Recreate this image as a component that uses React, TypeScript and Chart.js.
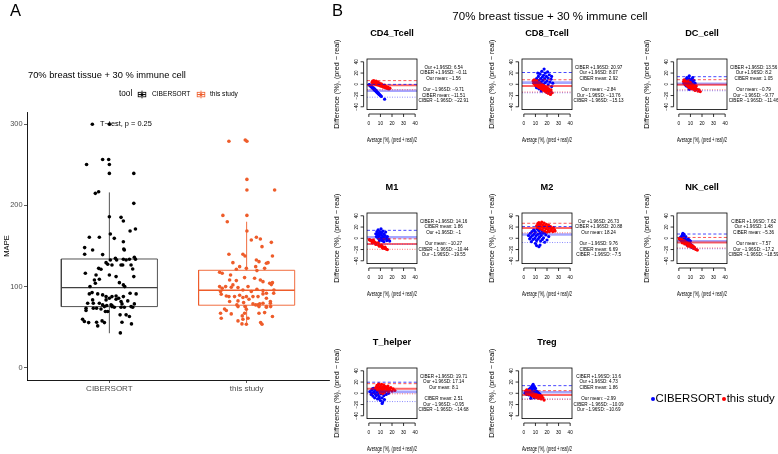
import React, { useEffect, useRef } from 'react';
import { Chart, registerables } from 'chart.js';
Chart.register(...registerables);

const FONT = '"Liberation Sans", Arial, Helvetica, sans-serif';
const MINUS = '\u2212';

/* ---------------- Panel A data ---------------- */
const toolNames = ['CIBERSORT', 'this study'];
const toolColors = ['#000000', '#EE5C2A'];
const boxLineColors = ['#404040', '#EE5C2A'];
const mapeQ1 = [75.4, 77.1];
const mapeMedian = [98.8, 95.5];
const mapeQ3 = [134.0, 120.1];
const mapeWhiskerLow = [42.6, 54.1];
const mapeWhiskerHigh = [216.0, 179.9];
const mapeTicks = [0, 100, 200, 300];

// [horizontal jitter (category units), MAPE]
const ciberMape: [number, number][] = [
  [-0.124, 300], [0, 300],
  [-0.166, 250.4], [-0.049, 256.6], [-0.005, 256.6], [0, 250.4], [0, 239.4], [0.178, 239.4],
  [-0.102, 214.8], [-0.078, 216.8], [0.178, 202.5], [0, 186.1], [0.085, 185.3], [0.102, 180.7],
  [-0.146, 160.7], [-0.073, 160.7], [0.036, 159.4], [0.007, 164.8], [0.151, 168.4], [0.19, 170.9],
  [-0.18, 148.0], [-0.122, 145.1], [-0.18, 139.8], [-0.049, 139.4], [0.105, 146.3], [0.109, 145.1], [0.102, 155.3],
  [0.007, 132.8], [0.044, 134.8], [0.053, 132.8], [0.102, 133.6], [0.146, 133.6], [0.182, 136.1], [0.19, 133.6],
  [-0.175, 116.4], [-0.097, 114.3], [-0.078, 122.5], [-0.061, 121.3], [-0.109, 108.2], [-0.073, 109.0],
  [-0.012, 127.5], [0.019, 126.6], [-0.024, 129.5], [0.085, 126.6], [0.097, 126.6], [0.122, 132.8], [0.158, 126.6], [0.17, 121.7], [0.178, 112.3],
  [-0.141, 100.0], [-0.102, 104.1], [0.073, 104.9], [0.102, 102.1], [0.112, 100.0], [0.049, 112.3], [0, 114.3],
  [-0.146, 91.0], [-0.126, 92.6], [-0.085, 91.0], [-0.049, 89.8], [-0.024, 87.7], [0, 85.7], [0.019, 87.7], [0.049, 88.5], [0.068, 85.7], [0.102, 87.7], [0.151, 91.8], [0.195, 91.0],
  [-0.158, 79.5], [-0.117, 79.5], [-0.073, 79.5], [-0.049, 77.5], [-0.036, 75.4], [0.012, 77.5], [0.019, 75.4], [0.049, 84.4], [0.085, 81.6], [0.092, 78.7], [0.158, 75.4], [0.182, 78.7], [-0.17, 73.4], [-0.122, 83.6],
  [-0.024, 83.6], [0.134, 82.4],
  [-0.17, 70.5], [-0.117, 73.4], [-0.093, 73.4], [-0.061, 72.5], [-0.029, 69.3], [-0.012, 69.3], [0.036, 74.6], [0.085, 74.6], [0.109, 74.6], [0.17, 74.6],
  [0.122, 65.2], [0.146, 63.1], [-0.195, 59.8], [-0.182, 57.0], [-0.151, 55.7], [-0.093, 56.1], [-0.085, 51.6], [-0.053, 57.8], [-0.036, 55.7], [0.078, 65.2], [0.092, 56.1], [0.161, 54.1], [0.08, 43.0], [-0.019, 76.6], [0.019, 76.6],
];

const studyMape: [number, number][] = [
  [-0.129, 279], [-0.01, 280.5], [0.002, 279],
  [0.002, 232.0], [0.002, 218.9], [0.204, 218.9], [-0.173, 187.7], [0.002, 187.7], [-0.141, 179.9], [0.002, 168.4],
  [0.034, 157.4], [0.071, 160.7], [0.1, 158.6], [0.18, 154.5], [-0.129, 139.8], [-0.027, 139.8], [-0.012, 137.7], [0.112, 149.2], [0.188, 137.7],
  [-0.1, 129.5], [-0.051, 124.6], [-0.197, 117.6], [-0.178, 116.4], [-0.117, 114.3], [-0.075, 121.3], [-0.002, 122.5], [0.071, 132.8], [0.09, 130.7], [0.144, 128.7], [0.156, 129.5], [0.066, 124.6], [0.075, 119.7], [0.131, 122.5],
  [-0.124, 108.2], [-0.075, 107.4], [-0.015, 111.1], [0.058, 110.3], [0.1, 108.2], [0.119, 106.1], [0.168, 104.1], [0.18, 102.5], [0.188, 104.9],
  [-0.197, 100.0], [-0.178, 98.0], [-0.153, 100.0], [-0.1, 102.1], [-0.063, 98.8], [-0.027, 95.9], [0.01, 100.0], [0.034, 93.9], [0.075, 96.7], [0.119, 95.1], [0.144, 91.8],
  [-0.19, 93.9], [-0.185, 90.6], [-0.148, 88.5], [-0.129, 87.7], [-0.088, 87.7], [-0.051, 89.3], [-0.027, 86.5], [-0.002, 87.7], [0.017, 84.4], [0.046, 87.7], [0.083, 87.7], [0.119, 91.0], [0.144, 85.7], [0.197, 91.8], [0.199, 95.9],
  [-0.124, 81.6], [-0.071, 77.5], [-0.022, 80.3], [0.046, 78.7], [0.083, 77.5], [0.119, 79.5], [0.144, 75.4], [0.173, 79.5], [-0.012, 75.4], [-0.112, 99.2],
  [-0.063, 82.4], [0.095, 78.7], [0.173, 81.6], [-0.161, 72.5], [-0.148, 70.5], [-0.063, 75.4], [-0.002, 72.1], [0.066, 77.5], [0.09, 75.4], [0.144, 74.6], [0.175, 75.4],
  [-0.19, 67.2], [-0.185, 61.0], [-0.112, 66.4], [-0.032, 63.9], [-0.015, 67.2], [0.09, 67.2], [0.131, 68.0], [0.188, 63.1], [-0.063, 57.8], [-0.027, 59.8], [-0.034, 54.1], [-0.002, 53.7], [0.102, 55.7], [0.112, 53.7], [0.01, 61.0],
];

/* ---------------- Panel B data ---------------- */
const cellNames = ['CD4_Tcell', 'CD8_Tcell', 'DC_cell', 'M1', 'M2', 'NK_cell', 'T_helper', 'Treg'];
const ciberUpper = [-0.11, 20.97, 13.56, 14.16, 20.88, 7.62, 19.71, 13.6];
const ciberMean = [-11.51, 2.92, 1.05, 1.86, 6.69, -5.36, 2.51, 1.86];
const ciberLower = [-22.91, -15.13, -11.46, -10.44, -7.5, -18.59, -14.68, -10.09];
const ourUpper = [6.54, 8.07, 8.2, -1, 26.73, 1.48, 17.14, 4.73];
const ourMean = [-1.56, -2.84, -0.79, -10.27, 18.24, -7.57, 8.1, -2.99];
const ourLower = [-9.71, -13.76, -9.77, -19.55, 9.76, -17.2, -0.95, -10.69];
const baXTicks = [0, 10, 20, 30, 40];
const baYTicks = [40, 20, 0, -20, -40];
const BA_XMIN = -1.6, BA_XMAX = 41.6, BA_YMIN = -45, BA_YMAX = 45;

type P = [number, number];
const cd4Ciber: P[] = [[0.3,-0.5],[0.6,-1.2],[0.9,-1.6],[1.2,-2.5],[1.5,-2.8],[1.8,-3.7],[2.1,-4.0],[2.4,-4.9],[2.7,-5.2],[3.0,-6.1],[3.3,-6.4],[3.6,-7.3],[3.9,-7.6],[4.2,-8.5],[4.5,-8.8],[4.8,-9.7],[5.1,-10.0],[5.4,-10.9],[5.7,-11.2],[6.0,-12.1],[6.3,-12.4],[6.6,-13.3],[6.9,-13.6],[7.2,-14.5],[7.5,-14.8],[7.8,-15.7],[8.1,-16.0],[8.4,-16.9],[8.7,-17.2],[9.0,-18.1],[9.4,-18.6],[9.8,-19.7],[10.3,-20.4],[10.8,-21.5],[13.6,-26.5],[2,-2.8],[4,-6.5],[6,-10.5],[5,-8]];
const cd4Ours: P[] = [[2.8,3.5],[3.2,5.5],[3.6,1.8],[4.0,4.2],[4.3,6.4],[4.7,2.6],[5.0,0.5],[5.3,4.8],[5.6,3.0],[6.0,1.2],[6.3,5.6],[6.6,-0.5],[7.0,2.9],[7.3,0.8],[7.7,3.8],[8.0,-1.4],[8.3,1.5],[8.7,-0.2],[9.0,2.4],[9.4,-2.2],[9.7,0.4],[10.1,-1.1],[10.5,-3.4],[10.8,1.0],[11.2,-2.6],[11.6,-0.8],[12.0,-4.2],[12.4,-2.0],[12.8,-5.1],[13.2,-3.3],[13.7,-1.6],[14.1,-5.8],[14.6,-4.0],[15.0,-6.6],[15.5,-4.9],[16.0,-7.3],[16.6,-5.6],[17.3,-8.2],[18.2,-6.9]];
const cd8Ciber: P[] = [[9,2],[10,6],[10.5,-3],[11,10],[11.5,4],[12,-1],[12.5,14],[13,7],[13.5,1],[14,18],[14,-5],[14.5,10],[15,4],[15.5,23],[15.5,-2],[16,13],[16.5,7],[17,0],[17,16],[17.5,27],[18,10],[18.5,3],[18.5,20],[19,-6],[19.5,14],[20,6],[20.5,22],[21,-1],[21,11],[22,17],[22.5,4],[23,-12],[23.5,9],[24,14],[25,2],[16,-9],[20,-14],[12,20],[13,-8],[18,-10],[15,-12],[11,-6],[21,-8],[24,-4]];
const cd8Ours: P[] = [[8,6],[8.5,2],[9,8],[9.5,0],[10,4],[10.5,-2],[11,6],[11.5,1],[12,-4],[12.5,3],[13,-1],[13.5,-6],[14,2],[14.5,-3],[15,-8],[15.5,0],[16,-5],[16.5,-10],[17,-2],[17.5,-7],[18,-12],[18.5,-4],[19,-9],[19.5,-14],[20,-6],[20.5,-11],[21,-16],[21.5,-8],[22,-13],[23,-18],[23.5,-10],[24.5,-15]];
const dcCiber: P[] = [[4.5,2],[5,6],[5.5,-1],[6,9],[6,3],[6.5,-3],[7,12],[7,5],[7.5,0],[8,8],[8,-5],[8.5,3],[9,15],[9,10],[9.5,-2],[10,6],[10,1],[10.5,-7],[11,9],[11,3],[11.5,-3],[12,5],[12.5,0],[13,-6],[13,7],[14,2],[14.5,-4],[15.5,-9],[12,12],[9,-9]];
const dcOurs: P[] = [[4,5],[4.5,8],[5,2],[5.5,6],[6,0],[6.5,4],[7,-2],[7.5,2],[8,-4],[8,5],[8.5,0],[9,-6],[9.5,-2],[10,3],[10.5,-4],[11,-8],[11.5,0],[12,-6],[12.5,-2],[13,-9],[13.5,-5],[14,-11],[14.5,-7],[15,-3],[16,-9],[16.5,-12],[17.5,-10],[18.5,-13]];
const m1Ciber: P[] = [[6,8],[6.5,3],[7,12],[7.5,6],[8,0],[8,15],[8.5,9],[9,4],[9.5,-2],[9.5,12],[10,7],[10.5,17],[10.5,1],[11,10],[11.5,-4],[11.5,5],[12,13],[12.5,2],[13,8],[13,-6],[13.5,-1],[14,5],[14.5,11],[15,0],[15.5,-4],[16,3],[17,-2],[18,-5],[12,-2],[9,-5]];
const m1Ours: P[] = [[0.5,-2.5],[1,-3.5],[1.5,-3],[2,-4.5],[2.5,-4],[3,-5.5],[3.5,-5],[4,-6.5],[4.5,-6.5],[5,-7.5],[5.5,-7.5],[6,-8.5],[6.5,-9],[7,-9.5],[7.5,-10],[8,-10.5],[8.5,-11.5],[9,-11.5],[9.5,-12.5],[10,-13],[10.5,-13.5],[11,-14],[11.5,-15],[12,-15],[12.5,-16],[13,-16.5],[13.5,-17.5],[14,-17.5],[14.5,-18.5],[15,-19],[16,-20],[3,-8],[6,-11],[9,-14],[12,-17.5],[4,-3.5],[8,-8],[11,-12],[14,-15.5]];
const m2Ciber: P[] = [[4,5],[5,-1],[5.5,9],[6,2],[6.5,-6],[7,12],[7.5,5],[8,-2],[8.5,15],[9,8],[9.5,0],[10,-9],[10,11],[10.5,4],[11,-4],[11.5,17],[12,7],[12.5,-1],[13,13],[13.5,2],[14,-12],[14,9],[14.5,-5],[15,5],[15.5,14],[16,-2],[16.5,9],[17,1],[18,-7],[19,6],[20,-3],[21.5,3],[11,-13],[13,-15],[9,14],[12,16],[16,12],[18,10]];
const m2Ours: P[] = [[11,22],[12,26],[12.5,19],[13,28],[13.5,23],[14,17],[14.5,26],[15,21],[15.5,29],[16,15],[16.5,24],[17,19],[17.5,27],[18,13],[18.5,22],[19,17],[19.5,25],[20,11],[20.5,20],[21,15],[21.5,23],[22,12],[22.5,18],[23,21],[23.5,14],[24,17],[25,12],[25.5,19],[26.5,15],[27,13]];
const nkCiber: P[] = [[0.5,-1],[1,1],[1.5,-2],[2,3],[2.5,0],[3,6],[3.5,9],[4,4],[4,-2],[4.5,7],[5,1],[5,-4],[5.5,-1],[6,-6],[6,3],[6.5,-3],[7,-8],[7.5,-5],[8,-10],[8,-1],[8.5,-7],[9,-12],[9.5,-9],[10,-14],[10,-5],[10.5,-11],[11,-16],[11.5,-13],[12,-17],[7,-12],[9,-3]];
const nkOurs: P[] = [[0.3,-1],[1,-2.5],[1.5,-1],[2,-4],[2.5,-2.5],[3,-5],[3.5,-3.5],[4,-6.5],[4.5,-4.5],[5,-8],[5.5,-6],[6,-9],[6.5,-7],[7,-10.5],[7.5,-8.5],[8,-11.5],[8.5,-9.5],[9,-13],[9.5,-11],[10,-14],[10.5,-12],[11,-15.5],[11.5,-13.5],[12,-16.5],[12.5,-14.5],[13,-18],[13.5,-16],[14,-19],[15,-20],[16,-21],[5,-10],[8,-14],[3,-8]];
const thCiber: P[] = [[1,3],[2,-2],[2.5,6],[3,0],[3.5,-5],[4,9],[4.5,3],[5,-8],[5.5,-1],[6,6],[6.5,-4],[7,11],[7,2],[7.5,-10],[8,-2],[8.5,7],[9,-6],[9.5,3],[10,-13],[10,10],[10.5,-1],[11,5],[11.5,-18],[11.5,-8],[12,1],[12.5,8],[13,-4],[13.5,-11],[14,3],[15,-2],[16,6],[17,0],[12,-15],[9,-9],[5,8],[8,12],[14,10],[3,8]];
const thOurs: P[] = [[6,10],[7,14],[7.5,6],[8,12],[8.5,17],[9,8],[9.5,3],[10,13],[10.5,9],[11,16],[11.5,5],[12,11],[12.5,7],[13,14],[13.5,2],[14,9],[14.5,12],[15,5],[15.5,10],[16,7],[16.5,13],[17,3],[17.5,9],[18,6],[19,10],[20,4],[21,8],[22.5,5],[12,0],[10,1]];
const tregCiber: P[] = [[1,0],[2,2],[2.5,-2],[3,4],[3.5,1],[4,6],[4.5,-3],[5,8],[5,2],[5.5,-1],[6,10],[6,4],[6.5,-5],[7,13],[7,6],[7.5,1],[8,16],[8,9],[8.5,3],[8.5,-3],[9,12],[9.5,6],[10,0],[10,9],[10.5,-6],[11,4],[11.5,-1],[12,2],[12.5,-4],[13,0],[14,-2],[9,-8],[6,-9]];
const tregOurs: P[] = [[1.5,4],[2,1],[2.5,6],[3,2],[3.5,-1],[4,3],[4.5,0],[5,5],[5.5,-2],[6,2],[6.5,-1],[7,-4],[7.5,1],[8,-3],[8.5,-6],[9,-1],[9.5,-4],[10,-7],[10.5,-2],[11,-5],[11.5,-8],[12,-3],[12.5,-6],[13,-9],[13.5,-4],[14,-7],[15,-10],[15.5,-5],[16.5,-8],[17.5,-12]];

const ciberPoints = [cd4Ciber, cd8Ciber, dcCiber, m1Ciber, m2Ciber, nkCiber, thCiber, tregCiber];
const ourPoints = [cd4Ours, cd8Ours, dcOurs, m1Ours, m2Ours, nkOurs, thOurs, tregOurs];

/* ---------------- layout constants ---------------- */
const BOX_HALF = 0.35;
const boxLefts = [367, 522, 677];
const boxTops = [59, 213, 368];
const BOX_W = 50, BOX_H = 50.6;
const baTextOffsets = [8.6, 14.2, 19.8, 31.0, 36.6, 42.2];

const fmtNum = (v: number) => String(v).replace('-', MINUS);

function Label(props: { x: number; y: number; size: number; text: string; anchor?: string; bold?: boolean; color?: string }) {
  const { x, y, size, text, anchor = 'left', bold, color = '#000' } = props;
  const tx = anchor === 'left' ? '0' : anchor === 'center' ? '-50%' : '-100%';
  return (
    <div style={{ position: 'absolute', left: x, top: y, fontFamily: FONT, fontSize: size, fontWeight: bold ? 'bold' : 'normal', color, whiteSpace: 'nowrap', lineHeight: 1, transform: `translate(${tx}, -50%)` }}>{text}</div>
  );
}

function KeyGlyph({ x, y, color }: { x: number; y: number; color: string }) {
  return (
    <svg style={{ position: 'absolute', left: x, top: y }} width={10} height={9}>
      <line x1={5} y1={0.6} x2={5} y2={2.3} stroke={color} strokeWidth={0.8} />
      <line x1={5} y1={6.8} x2={5} y2={8.4} stroke={color} strokeWidth={0.8} />
      <rect x={1.2} y={2.3} width={7.6} height={4.5} fill="white" stroke={color} strokeWidth={0.8} />
      <line x1={1.2} y1={4.55} x2={8.8} y2={4.55} stroke={color} strokeWidth={1} />
      <circle cx={5} cy={4.55} r={1.5} fill={color} />
    </svg>
  );
}

function PanelA() {
  const ref = useRef<HTMLCanvasElement>(null);
  useEffect(() => {
    const W = 336, H = 454;
    const groups = [ciberMape, studyMape];
    const datasets: any[] = [];
    groups.forEach((pts, i) => {
      datasets.push({ type: 'scatter', data: pts.map(([j, v]) => ({ x: i + 1 + j, y: v })), backgroundColor: toolColors[i], borderWidth: 0, pointRadius: 1.8 });
    });
    groups.forEach((_, i) => {
      const c = i + 1;
      const w = BOX_HALF;
      const line = { type: 'line', borderColor: boxLineColors[i], pointRadius: 0, fill: false, tension: 0 };
      datasets.push({ ...line, borderWidth: 1.4, data: [{ x: c - w, y: mapeMedian[i] }, { x: c + w, y: mapeMedian[i] }] });
      datasets.push({ ...line, borderWidth: 0.9, data: [{ x: c - w, y: mapeQ1[i] }, { x: c + w, y: mapeQ1[i] }, { x: c + w, y: mapeQ3[i] }, { x: c - w, y: mapeQ3[i] }, { x: c - w, y: mapeQ1[i] }] });
      datasets.push({ ...line, borderWidth: 0.9, spanGaps: false, data: [{ x: c, y: mapeWhiskerLow[i] }, { x: c, y: mapeQ1[i] }, { x: c, y: null }, { x: c, y: mapeQ3[i] }, { x: c, y: mapeWhiskerHigh[i] }] });
    });
    const chart = new Chart(ref.current!, {
      type: 'scatter',
      data: { datasets },
      options: {
        animation: false,
        responsive: false,
        layout: { padding: { left: 0, top: 112, right: W - 329, bottom: H - 380 - 20 } },
        plugins: { legend: { display: false }, tooltip: { enabled: false } },
        scales: {
          x: {
            type: 'linear', min: 0.4, max: 2.6,
            afterBuildTicks: (s: any) => { s.ticks = [1, 2].map((v) => ({ value: v })); },
            afterFit: (s: any) => { s.height = 20; },
            ticks: { callback: (v: any) => toolNames[Math.round(v) - 1], font: { family: FONT, size: 8 }, color: '#4d4d4d', padding: 1, maxRotation: 0, autoSkip: false },
            grid: { display: true, drawOnChartArea: false, drawTicks: true, tickLength: 3, color: '#333', lineWidth: 0.8 },
            border: { display: true, color: '#000', width: 0.9 },
          },
          y: {
            type: 'linear', min: -15, max: 315,
            afterBuildTicks: (s: any) => { s.ticks = mapeTicks.map((v) => ({ value: v })); },
            afterFit: (s: any) => { s.width = 27; },
            ticks: { font: { family: FONT, size: 7.4 }, color: '#4d4d4d', padding: 1.5 },
            grid: { display: true, drawOnChartArea: false, drawTicks: true, tickLength: 3, color: '#333', lineWidth: 0.8 },
            border: { display: true, color: '#000', width: 0.9 },
            title: { display: true, text: 'MAPE', font: { family: FONT, size: 7.6 }, color: '#000', padding: { top: 2, bottom: 0 } },
          },
        },
      } as any,
    });
    return () => chart.destroy();
  }, []);
  return <canvas ref={ref} width={336} height={454} style={{ position: 'absolute', left: 0, top: 0, width: 336, height: 454 }} />;
}

function BAPlot({ idx }: { idx: number }) {
  const ref = useRef<HTMLCanvasElement>(null);
  const col = idx % 3, row = Math.floor(idx / 3);
  const left = boxLefts[col] - 37;
  const top = boxTops[row] - 34;
  const W = Math.min(142, 778 - left);
  const H = 125;
  useEffect(() => {
    const entries: [string, number][] = [
      ['CIBER +1.96SD', ciberUpper[idx]], ['CIBER mean', ciberMean[idx]], ['CIBER ' + MINUS + '1.96SD', ciberLower[idx]],
      ['Our +1.96SD', ourUpper[idx]], ['Our mean', ourMean[idx]], ['Our ' + MINUS + '1.96SD', ourLower[idx]],
    ];
    const lines = entries.slice().sort((a, b) => b[1] - a[1]).map(([k, v]) => `${k}: ${fmtNum(v)}`);
    const title = cellNames[idx];
    const decor = {
      id: 'baDecor',
      afterDraw(chart: any) {
        const { ctx, chartArea: a } = chart;
        const xs = chart.scales.x, ys = chart.scales.y;
        ctx.save();
        ctx.strokeStyle = '#000';
        ctx.lineWidth = 0.8;
        ctx.strokeRect(a.left, a.top, a.right - a.left, a.bottom - a.top);
        const ax = a.left - 3.4;
        const ay = a.bottom + 4.4;
        ctx.beginPath();
        ctx.moveTo(ax, ys.getPixelForValue(baYTicks[0]));
        ctx.lineTo(ax, ys.getPixelForValue(baYTicks[baYTicks.length - 1]));
        baYTicks.forEach((v) => { const p = ys.getPixelForValue(v); ctx.moveTo(ax, p); ctx.lineTo(ax - 3, p); });
        ctx.moveTo(xs.getPixelForValue(baXTicks[0]), ay);
        ctx.lineTo(xs.getPixelForValue(baXTicks[baXTicks.length - 1]), ay);
        baXTicks.forEach((v) => { const p = xs.getPixelForValue(v); ctx.moveTo(p, ay); ctx.lineTo(p, ay + 3); });
        ctx.stroke();
        ctx.fillStyle = '#000';
        ctx.textAlign = 'center';
        ctx.textBaseline = 'middle';
        ctx.font = `4.6px ${FONT}`;
        baYTicks.forEach((v) => {
          ctx.save();
          ctx.translate(a.left - 10, ys.getPixelForValue(v));
          ctx.rotate(-Math.PI / 2);
          ctx.fillText(fmtNum(v), 0, 0);
          ctx.restore();
        });
        baXTicks.forEach((v) => ctx.fillText(fmtNum(v), xs.getPixelForValue(v), a.bottom + 13.7));
        ctx.font = `bold 9.2px ${FONT}`;
        ctx.fillText(title, (a.left + a.right) / 2, a.top - 25.5);
        ctx.font = `4.6px ${FONT}`;
        lines.forEach((s, i) => ctx.fillText(s, a.right + 26.6, a.top + baTextOffsets[i]));
        ctx.restore();
      },
    };
    const hline = (v: number, color: string, width: number, dash: number[]) => ({
      type: 'line', data: [{ x: BA_XMIN, y: v }, { x: BA_XMAX, y: v }], borderColor: color, borderWidth: width, borderDash: dash, pointRadius: 0, fill: false,
    });
    const datasets: any[] = [
      hline(ourUpper[idx], 'rgba(255,0,0,0.75)', 0.9, [3, 2.2]),
      hline(ciberUpper[idx], 'rgba(0,0,255,0.8)', 0.9, [3, 2.2]),
      hline(ourLower[idx], 'rgba(255,0,0,0.6)', 0.9, [1, 1.5]),
      hline(ciberLower[idx], 'rgba(60,60,255,0.65)', 0.9, [1, 1.5]),
      hline(ourMean[idx], 'rgba(255,0,0,0.6)', 2, []),
      hline(ciberMean[idx], 'rgba(0,0,255,0.35)', 2.6, []),
      { type: 'scatter', data: ourPoints[idx].map(([x, y]) => ({ x, y })), backgroundColor: '#FF0000', borderWidth: 0, pointRadius: 1.6 },
      { type: 'scatter', data: ciberPoints[idx].map(([x, y]) => ({ x, y })), backgroundColor: '#0000FF', borderWidth: 0, pointRadius: 1.6 },
    ];
    const chart = new Chart(ref.current!, {
      type: 'scatter',
      data: { datasets },
      plugins: [decor as any],
      options: {
        animation: false,
        responsive: false,
        layout: { padding: { left: 0, top: 34, right: W - 37 - BOX_W, bottom: 0 } },
        plugins: { legend: { display: false }, tooltip: { enabled: false } },
        scales: {
          x: {
            type: 'linear', min: BA_XMIN, max: BA_XMAX,
            afterFit: (s: any) => { s.height = H - 34 - BOX_H; },
            ticks: { display: false }, grid: { display: false }, border: { display: false },
            title: { display: true, text: 'Average (%), (pred + real)/2', font: { family: FONT, size: 7.3 }, color: '#000', padding: { top: 0, bottom: 5.5 } },
          },
          y: {
            type: 'linear', min: BA_YMIN, max: BA_YMAX,
            afterFit: (s: any) => { s.width = 37; },
            ticks: { display: false }, grid: { display: false }, border: { display: false },
            title: { display: true, text: 'Difference (%), (pred ' + MINUS + ' real)', font: { family: FONT, size: 7.2 }, color: '#000', padding: { top: 2.7, bottom: 0 } },
          },
        },
      } as any,
    });
    return () => chart.destroy();
  }, [idx, W]);
  return <canvas ref={ref} width={W} height={H} style={{ position: 'absolute', left, top, width: W, height: H }} />;
}

export default function App() {
  return (
    <div style={{ position: 'absolute', left: 0, top: 0, width: 778, height: 454, overflow: 'hidden', background: '#fff' }}>
      <PanelA />
      <Label x={10} y={9.5} size={16.5} text="A" />
      <Label x={28} y={76} size={9.3} text="70% breast tissue + 30 % immune cell" />
      <Label x={119} y={94} size={8.2} text="tool" />
      <KeyGlyph x={137.3} y={89.7} color={toolColors[0]} />
      <Label x={152} y={94} size={6.6} text={toolNames[0]} />
      <KeyGlyph x={195.7} y={89.7} color={toolColors[1]} />
      <Label x={210} y={94} size={6.6} text={toolNames[1]} />
      <Label x={100} y={124.3} size={7.4} text={'T' + MINUS + 'test, p = 0.25'} />

      <Label x={332} y={10} size={16.5} text="B" />
      <Label x={550} y={17} size={11.5} text="70% breast tissue + 30 % immune cell" anchor="center" />
      {cellNames.map((_, i) => <BAPlot key={i} idx={i} />)}
      <div style={{ position: 'absolute', left: 650.7, top: 396.7, width: 4, height: 4, borderRadius: 2, background: '#0000FF' }} />
      <Label x={655.5} y={398.7} size={11.4} text="CIBERSORT" />
      <div style={{ position: 'absolute', left: 722.3, top: 396.7, width: 4, height: 4, borderRadius: 2, background: '#FF0000' }} />
      <Label x={726.7} y={398.7} size={11.4} text="this study" />
    </div>
  );
}
